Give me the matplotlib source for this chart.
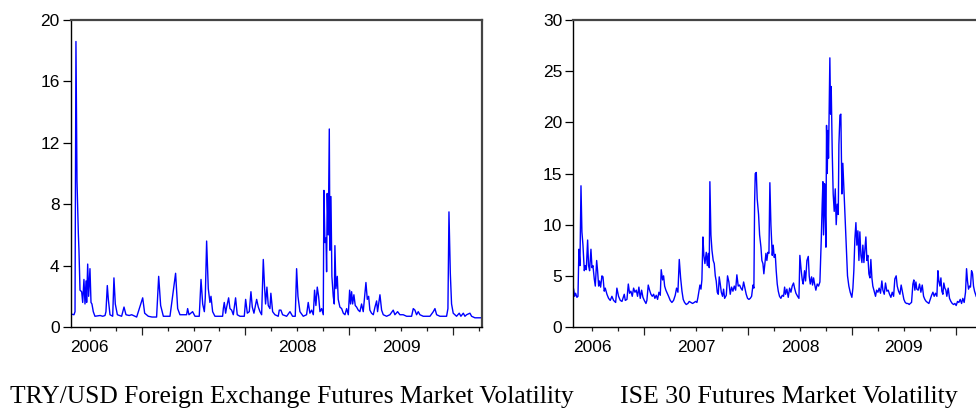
import matplotlib
matplotlib.use("Agg")
import matplotlib.pyplot as plt
from matplotlib.ticker import FixedLocator, FixedFormatter, NullFormatter

# TRY/USD foreign exchange futures volatility (decimal year, value)
try_t = [
    2006.316, 2006.348, 2006.358, 2006.367, 2006.377, 2006.390, 2006.396, 2006.406, 2006.422, 2006.432,
    2006.444, 2006.454, 2006.464, 2006.470, 2006.480, 2006.489, 2006.502, 2006.512, 2006.521, 2006.534,
    2006.550, 2006.600, 2006.625, 2006.647, 2006.656, 2006.669, 2006.679, 2006.695, 2006.721, 2006.733,
    2006.746, 2006.766, 2006.807, 2006.830, 2006.849, 2006.880, 2006.904, 2006.952, 2007.010, 2007.029,
    2007.064, 2007.100, 2007.144, 2007.164, 2007.183, 2007.209, 2007.273, 2007.327, 2007.347, 2007.369,
    2007.433, 2007.443, 2007.456, 2007.491, 2007.514, 2007.555, 2007.572, 2007.588, 2007.604, 2007.613,
    2007.626, 2007.642, 2007.658, 2007.668, 2007.684, 2007.706, 2007.780, 2007.787, 2007.796, 2007.809,
    2007.819, 2007.838, 2007.851, 2007.867, 2007.883, 2007.905, 2007.921, 2007.947, 2007.989, 2008.002,
    2008.018, 2008.037, 2008.053, 2008.066, 2008.082, 2008.108, 2008.124, 2008.140, 2008.156, 2008.172,
    2008.185, 2008.194, 2008.207, 2008.220, 2008.236, 2008.245, 2008.262, 2008.284, 2008.316, 2008.326,
    2008.342, 2008.358, 2008.397, 2008.429, 2008.454, 2008.480, 2008.493, 2008.506, 2008.525, 2008.557,
    2008.589, 2008.605, 2008.621, 2008.638, 2008.654, 2008.666, 2008.679, 2008.692, 2008.705, 2008.718,
    2008.734, 2008.750, 2008.756, 2008.766, 2008.776, 2008.782, 2008.788, 2008.798, 2008.808, 2008.814,
    2008.824, 2008.833, 2008.846, 2008.856, 2008.862, 2008.872, 2008.885, 2008.894, 2008.910, 2008.927,
    2008.943, 2008.959, 2008.975, 2008.991, 2009.004, 2009.013, 2009.023, 2009.033, 2009.045, 2009.058,
    2009.071, 2009.087, 2009.103, 2009.119, 2009.135, 2009.161, 2009.174, 2009.187, 2009.199, 2009.215,
    2009.232, 2009.248, 2009.264, 2009.273, 2009.296, 2009.312, 2009.328, 2009.360, 2009.392, 2009.424,
    2009.440, 2009.466, 2009.488, 2009.520, 2009.553, 2009.601, 2009.617, 2009.633, 2009.649, 2009.665,
    2009.681, 2009.713, 2009.778, 2009.810, 2009.826, 2009.842, 2009.874, 2009.938, 2009.951, 2009.961,
    2009.974, 2009.986, 2010.002, 2010.034, 2010.060, 2010.076, 2010.099, 2010.115, 2010.131, 2010.163,
    2010.179, 2010.211, 2010.243, 2010.269,
]
try_vol = [
    0.85, 0.80, 1.0, 18.6, 9.5, 6.1, 5.0, 2.4, 2.3, 1.6,
    3.1, 1.5, 3.0, 1.6, 4.1, 2.0, 3.8, 1.6, 1.5, 1.0,
    0.7, 0.75, 0.7, 0.75, 1.0, 2.7, 1.8, 0.8, 0.7, 3.2,
    1.5, 0.8, 0.7, 1.3, 0.8, 0.75, 0.8, 0.65, 1.9, 0.9,
    0.7, 0.65, 0.65, 3.3, 1.4, 0.7, 0.7, 3.5, 1.2, 0.8,
    0.8, 1.2, 0.8, 1.0, 0.7, 0.7, 3.1, 1.5, 1.0, 1.9,
    5.6, 2.5, 1.6, 2.0, 1.0, 0.7, 0.7, 1.2, 1.6, 0.9,
    1.3, 1.9, 1.2, 1.1, 0.8, 1.9, 0.8, 0.7, 0.7, 1.8,
    0.9, 1.0, 2.3, 1.3, 0.9, 1.8, 1.3, 1.0, 0.8, 4.4,
    2.5, 1.5, 2.6, 1.4, 1.2, 2.2, 1.0, 0.8, 0.7, 1.1,
    1.1, 0.8, 0.7, 1.0, 0.7, 0.7, 3.8, 2.0, 1.0, 0.7,
    0.8, 1.6, 0.9, 1.1, 0.8, 2.4, 1.4, 2.6, 2.0, 1.0,
    1.2, 0.8, 8.9, 5.5, 5.8, 3.6, 8.7, 6.0, 12.9, 5.0,
    8.5, 3.3, 2.0, 1.5, 5.3, 2.5, 3.3, 1.8, 1.3, 1.2,
    0.9, 0.8, 1.2, 0.8, 2.4, 1.5, 2.3, 1.5, 2.1, 1.4,
    1.3, 1.1, 1.0, 1.5, 1.0, 2.9, 1.8, 2.0, 1.1, 0.9,
    0.8, 1.3, 1.7, 1.0, 2.1, 1.1, 0.8, 0.7, 0.8, 1.1,
    0.8, 1.0, 0.8, 0.8, 0.7, 0.7, 1.2, 1.1, 0.8, 1.0,
    0.8, 0.7, 0.7, 1.0, 1.2, 0.8, 0.7, 0.7, 1.2, 7.5,
    3.5, 1.5, 0.9, 0.7, 0.9, 0.7, 0.9, 0.7, 0.8, 0.9,
    0.7, 0.6, 0.6, 0.6,
]

# ISE 30 index futures volatility (decimal year, value)
ise_t = [
    2006.319, 2006.329, 2006.338, 2006.351, 2006.361, 2006.370, 2006.380, 2006.390, 2006.399, 2006.409,
    2006.422, 2006.431, 2006.441, 2006.454, 2006.463, 2006.473, 2006.486, 2006.496, 2006.505, 2006.518,
    2006.528, 2006.541, 2006.550, 2006.560, 2006.569, 2006.579, 2006.592, 2006.602, 2006.614, 2006.624,
    2006.640, 2006.656, 2006.672, 2006.688, 2006.704, 2006.724, 2006.736, 2006.752, 2006.769, 2006.785,
    2006.807, 2006.817, 2006.833, 2006.846, 2006.858, 2006.871, 2006.884, 2006.897, 2006.910, 2006.923,
    2006.935, 2006.948, 2006.961, 2006.974, 2006.987, 2007.000, 2007.016, 2007.025, 2007.038, 2007.051,
    2007.064, 2007.077, 2007.090, 2007.102, 2007.115, 2007.128, 2007.141, 2007.154, 2007.163, 2007.176,
    2007.186, 2007.196, 2007.208, 2007.221, 2007.234, 2007.250, 2007.266, 2007.282, 2007.298, 2007.311,
    2007.324, 2007.337, 2007.350, 2007.363, 2007.375, 2007.388, 2007.404, 2007.420, 2007.433, 2007.449,
    2007.465, 2007.481, 2007.494, 2007.507, 2007.517, 2007.526, 2007.536, 2007.546, 2007.555, 2007.565,
    2007.574, 2007.584, 2007.597, 2007.607, 2007.616, 2007.626, 2007.632, 2007.642, 2007.652, 2007.664,
    2007.674, 2007.684, 2007.693, 2007.703, 2007.713, 2007.722, 2007.732, 2007.742, 2007.754, 2007.764,
    2007.774, 2007.790, 2007.802, 2007.815, 2007.828, 2007.841, 2007.854, 2007.867, 2007.880, 2007.892,
    2007.905, 2007.918, 2007.931, 2007.944, 2007.957, 2007.969, 2007.982, 2007.995, 2008.008, 2008.021,
    2008.034, 2008.047, 2008.056, 2008.063, 2008.069, 2008.079, 2008.088, 2008.101, 2008.111, 2008.124,
    2008.133, 2008.143, 2008.152, 2008.162, 2008.172, 2008.181, 2008.191, 2008.201, 2008.210, 2008.220,
    2008.233, 2008.242, 2008.252, 2008.262, 2008.271, 2008.281, 2008.291, 2008.303, 2008.316, 2008.329,
    2008.342, 2008.352, 2008.361, 2008.374, 2008.387, 2008.400, 2008.413, 2008.425, 2008.438, 2008.448,
    2008.461, 2008.477, 2008.490, 2008.499, 2008.512, 2008.522, 2008.531, 2008.544, 2008.554, 2008.567,
    2008.580, 2008.589, 2008.599, 2008.612, 2008.621, 2008.631, 2008.641, 2008.653, 2008.666, 2008.679,
    2008.692, 2008.705, 2008.714, 2008.721, 2008.727, 2008.737, 2008.743, 2008.750, 2008.756, 2008.763,
    2008.769, 2008.775, 2008.782, 2008.788, 2008.795, 2008.801, 2008.811, 2008.820, 2008.830, 2008.840,
    2008.849, 2008.859, 2008.869, 2008.875, 2008.885, 2008.894, 2008.904, 2008.913, 2008.923, 2008.933,
    2008.946, 2008.958, 2008.971, 2008.984, 2009.000, 2009.010, 2009.019, 2009.029, 2009.039, 2009.048,
    2009.058, 2009.068, 2009.077, 2009.087, 2009.097, 2009.106, 2009.116, 2009.125, 2009.135, 2009.145,
    2009.154, 2009.164, 2009.174, 2009.183, 2009.193, 2009.202, 2009.215, 2009.228, 2009.238, 2009.251,
    2009.263, 2009.276, 2009.289, 2009.299, 2009.312, 2009.324, 2009.337, 2009.350, 2009.363, 2009.376,
    2009.389, 2009.402, 2009.414, 2009.427, 2009.437, 2009.450, 2009.463, 2009.475, 2009.488, 2009.501,
    2009.514, 2009.527, 2009.540, 2009.553, 2009.562, 2009.575, 2009.588, 2009.597, 2009.607, 2009.617,
    2009.626, 2009.639, 2009.652, 2009.665, 2009.678, 2009.691, 2009.703, 2009.716, 2009.729, 2009.742,
    2009.755, 2009.768, 2009.781, 2009.793, 2009.806, 2009.819, 2009.829, 2009.838, 2009.848, 2009.858,
    2009.867, 2009.877, 2009.886, 2009.896, 2009.906, 2009.915, 2009.928, 2009.941, 2009.954, 2009.967,
    2009.980, 2009.993, 2010.005, 2010.018, 2010.031, 2010.044, 2010.057, 2010.069, 2010.082, 2010.095,
    2010.105, 2010.114, 2010.124, 2010.134, 2010.143, 2010.153, 2010.163, 2010.172, 2010.182, 2010.198,
]
ise_vol = [
    3.7, 3.0, 3.3, 2.9, 3.0, 7.6, 6.0, 13.8, 9.3, 8.0,
    5.5, 6.0, 5.6, 8.5, 6.0, 5.5, 7.6, 5.8, 6.0, 4.7,
    4.0, 6.5, 5.5, 4.0, 4.5, 3.9, 5.0, 4.9, 3.5, 3.8,
    3.2, 2.8, 2.6, 3.0, 2.6, 2.4, 3.8, 3.0, 2.6, 2.5,
    3.2, 2.6, 2.7, 4.2, 3.3, 3.5, 3.0, 3.8, 3.4, 3.6,
    3.0, 3.9, 2.8, 3.6, 2.9, 2.6, 2.3, 2.6, 4.1, 3.6,
    3.2, 3.0, 3.2, 2.8, 3.1, 2.7, 3.4, 3.1, 5.6, 4.6,
    5.0, 4.0, 3.6, 3.3, 3.0, 2.6, 2.4, 2.6, 3.1, 3.8,
    3.4, 6.6, 4.8, 3.5, 2.7, 2.4, 2.2, 2.3, 2.5, 2.4,
    2.3, 2.4, 2.5, 2.4, 2.9, 3.5, 4.1, 3.7, 4.6, 8.8,
    7.0, 6.2, 7.3, 6.0, 7.2, 5.8, 14.2, 9.0, 7.5, 6.5,
    6.2, 5.0, 4.5, 3.4, 3.2, 4.9, 4.2, 3.4, 3.0, 3.7,
    2.8, 3.1, 5.0, 4.4, 3.2, 3.9, 3.5, 4.0, 3.6, 5.1,
    4.0, 4.1, 3.8, 3.6, 4.4, 3.8, 3.2, 2.8, 2.7, 2.8,
    3.0, 4.1, 3.8, 12.2, 15.0, 15.1, 12.5, 11.0, 9.0, 7.8,
    6.5, 6.2, 5.2, 6.2, 7.2, 6.5, 7.3, 7.2, 14.1, 10.0,
    7.0, 8.0, 6.8, 7.1, 5.5, 4.2, 3.5, 3.0, 2.8, 3.1,
    3.0, 3.9, 3.2, 3.7, 2.9, 3.8, 3.4, 4.0, 4.3, 3.8,
    3.3, 3.0, 2.8, 7.0, 5.5, 4.6, 4.2, 5.5, 4.5, 6.5,
    6.9, 5.0, 4.2, 4.9, 4.1, 4.8, 4.2, 3.6, 4.2, 4.0,
    4.4, 8.5, 12.0, 14.2, 9.0, 14.0, 11.5, 7.8, 19.7, 15.0,
    19.2, 16.5, 22.0, 26.3, 20.8, 23.5, 17.0, 13.0, 11.3, 13.5,
    10.0, 12.0, 11.0, 17.8, 20.7, 20.8, 13.0, 16.0, 13.5, 11.0,
    7.5, 5.0, 4.0, 3.4, 2.9, 3.8, 5.5, 8.6, 10.2, 8.0,
    9.4, 6.5, 9.3, 7.0, 6.3, 8.0, 6.3, 7.5, 8.8, 6.5,
    7.0, 5.2, 4.8, 6.6, 4.8, 4.0, 3.5, 3.0, 3.6, 3.4,
    3.8, 3.3, 4.5, 3.6, 3.2, 4.3, 3.5, 3.6, 3.2, 2.9,
    3.4, 3.0, 4.7, 5.0, 4.0, 3.5, 3.2, 4.1, 3.4, 2.7,
    2.4, 2.3, 2.3, 2.2, 2.3, 2.4, 4.2, 4.6, 3.6, 4.4,
    3.7, 3.6, 4.2, 3.4, 4.1, 3.0, 2.7, 2.5, 2.4, 2.3,
    2.7, 3.1, 3.4, 3.0, 3.3, 3.0, 5.5, 4.5, 4.0, 4.8,
    3.5, 3.2, 4.3, 3.8, 3.6, 3.0, 3.8, 2.8, 2.5, 2.3,
    2.2, 2.3, 2.1, 2.5, 2.4, 2.7, 2.3, 2.8, 2.4, 3.4,
    5.7, 4.5, 3.7, 4.0, 3.9, 5.5, 5.2, 4.0, 3.5, 3.0,
]

years = [2006, 2007, 2008, 2009]
year_bounds = [2007, 2008, 2009, 2010]
X_RANGE = (2006.316, 2010.276)
CAPTIONS = ["TRY/USD Foreign Exchange Futures Market Volatility", "ISE 30 Futures Market Volatility"]


def style_axis(ax, ymax, ystep):
    ax.set_xlim(*X_RANGE)
    ax.set_ylim(0, ymax)
    ax.set_yticks(range(0, ymax + 1, ystep))
    # long ticks at year boundaries, short ticks at quarters, labels mid-year
    ax.xaxis.set_major_locator(FixedLocator(year_bounds))
    ax.xaxis.set_major_formatter(NullFormatter())
    quarters = [y + q for y in range(2006, 2011) for q in (0.25, 0.5, 0.75)]
    labels = [str(int(q)) if abs(q % 1 - 0.5) < 1e-6 else "" for q in quarters]
    ax.xaxis.set_minor_locator(FixedLocator(quarters))
    ax.xaxis.set_minor_formatter(FixedFormatter(labels))
    ax.tick_params(axis="x", which="major", direction="out", length=6, width=0.9, color="#222222")
    ax.tick_params(axis="x", which="minor", direction="out", length=3, width=0.9, color="#222222",
                   pad=6, labelsize=12.5)
    ax.tick_params(axis="y", direction="out", length=5.5, width=0.9, pad=2.5, labelsize=12.5)
    ax.tick_params(right=False, top=False)
    for side in ("top", "right"):
        ax.spines[side].set_color("#444444")
        ax.spines[side].set_linewidth(1.6)
    for side in ("left", "bottom"):
        ax.spines[side].set_color("black")
        ax.spines[side].set_linewidth(1.0)
    for lab in ax.get_xticklabels(which="both") + ax.get_yticklabels():
        lab.set_fontfamily("Liberation Sans")


def main() -> int:
    fig = plt.figure(figsize=(9.76, 4.08), dpi=100)
    ax1 = fig.add_axes([0.0724, 0.1985, 0.4211, 0.7525])
    ax2 = fig.add_axes([0.5874, 0.1985, 0.4211, 0.7525])

    ax1.plot(try_t, try_vol, color="#0000ff", linewidth=1.0)
    ax2.plot(ise_t, ise_vol, color="#0000ff", linewidth=1.0)
    style_axis(ax1, 20, 4)
    style_axis(ax2, 30, 5)

    fig.text(0.299, 0.0123, CAPTIONS[0], ha="center", va="baseline",
             fontsize=18.4, family="Liberation Serif")
    fig.text(0.808, 0.0123, CAPTIONS[1], ha="center", va="baseline",
             fontsize=18.6, family="Liberation Serif")

    fig.savefig("out.png", dpi=100)
    plt.close(fig)
    return 0


if __name__ == "__main__":
    raise SystemExit(main())
